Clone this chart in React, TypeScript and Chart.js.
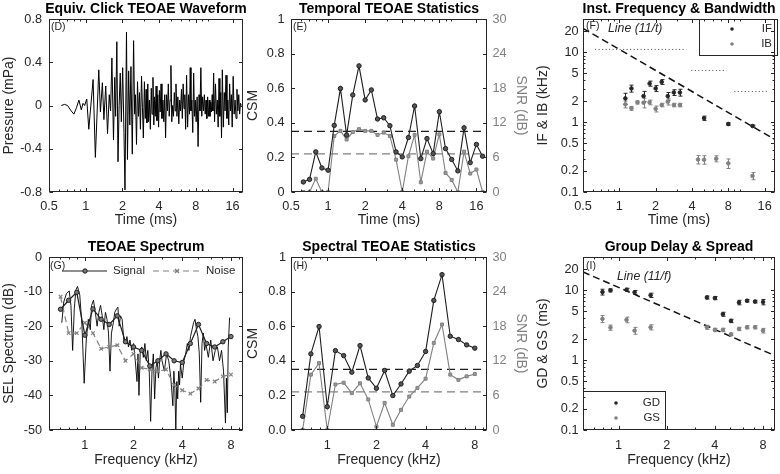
import React, { useEffect, useRef } from 'react';
import { Chart, registerables } from 'chart.js';
Chart.register(...registerables);

const W = 780, H = 474;
const FONT = '"Liberation Sans", Arial, Helvetica, sans-serif';
const AXC = '#262626';
const GRAYC = '#808080';
const BLK = '#1e1e1e';
const TICK_FS = 12.7, LAB_FS = 14, TITLE_FS = 14, LEG_FS = 11.5, TAG_FS = 10.5;

// ---------------- data ----------------
// (D) equivalent click waveform
const waveT = [0.63,0.67,0.71,0.76,0.80,0.84,0.88,0.92,0.95,0.98,1.02,1.06,1.15,1.2,1.28,1.32,1.37,1.41,1.46,1.51,1.56,1.6,1.64,1.69,1.73,1.76,1.8,1.84,1.88,1.92,1.96,2.01,2.06,2.1,2.16,2.2,2.25,2.3,2.35,2.41,2.47,2.52,2.56,2.61,2.66,2.71,2.76,2.81,2.87,2.92,2.97,3.03,3.08,3.13,3.18,3.23,3.28,3.33,3.39,3.45,3.5,3.56,3.62,3.67,3.72,3.78,3.84,3.9,3.96,4.02,4.08,4.15,4.22,4.3,4.37,4.45,4.52,4.6,4.68,4.76,4.84,4.92,5.0,5.08,5.16,5.25,5.33,5.42,5.5,5.6,5.7,5.8,5.9,6.0,6.1,6.2,6.3,6.4,6.5,6.6,6.72,6.85,6.97,7.1,7.2,7.3,7.42,7.55,7.68,7.8,7.92,8.05,8.2,8.35,8.5,8.65,8.8,8.95,9.1,9.25,9.4,9.55,9.7,9.85,10.0,10.15,10.3,10.45,10.6,10.75,10.9,11.05,11.2,11.4,11.6,11.8,12.0,12.2,12.4,12.6,12.8,13.0,13.2,13.45,13.7,13.9,14.15,14.4,14.65,14.9,15.15,15.4,15.65,15.9,16.2,16.5,16.8,17.1,17.4,17.7,18.0,18.3,18.6,18.9];
const waveP = [0,0.01,0,-0.05,-0.08,-0.02,0.05,-0.04,0.02,0,0.06,-0.22,0.24,-0.48,0.33,-0.06,0.21,-0.13,0.18,-0.26,0.1,-0.05,0.44,-0.32,0.26,-0.1,0.59,-0.52,0,0.3,-0.15,0.35,-0.25,-0.78,0.68,-0.5,0.32,-0.18,0.36,-0.45,0.6,-0.08,0.1,-0.36,0.22,-0.1,0.12,-0.22,0.27,-0.02,-0.3,0.22,-0.12,0.15,-0.16,0.2,-0.15,0.05,-0.22,0.16,-0.08,0.26,-0.18,0.08,-0.1,0.18,-0.14,0.1,-0.2,0.14,-0.06,0.2,-0.12,0.05,-0.15,0.1,-0.3,0.1,-0.05,0.2,-0.1,0.05,0.37,-0.15,0,-0.1,0.12,-0.05,0.2,-0.1,0.08,-0.17,0.05,-0.05,0.15,-0.12,0.2,-0.03,0.1,-0.22,0.28,-0.2,0.1,-0.08,0.35,-0.05,0.05,-0.25,0.3,-0.1,0.05,-0.15,0.08,-0.38,0.1,-0.05,0.35,-0.1,0.08,-0.05,0.1,-0.08,0.05,-0.12,0.08,-0.1,0.05,-0.1,0.03,-0.06,0.1,-0.05,0.3,-0.15,0.2,-0.08,0.05,-0.2,0.25,-0.1,0.12,-0.3,0.33,-0.2,0.12,-0.05,0.28,-0.12,0.05,-0.18,0.2,-0.05,0.1,-0.2,0.27,-0.08,0.05,-0.12,0.15,-0.05,0.1,-0.08,0.02,0];

// (E) temporal statistics, 1/6-octave time bands
const timeBands = [0.63,0.707,0.794,0.891,1,1.122,1.26,1.414,1.587,1.782,2,2.245,2.52,2.828,3.175,3.564,4,4.49,5.04,5.66,6.35,7.13,8,8.98,10.08,11.31,12.7,14.25,16,17.96];
const csmTime = [0.058,0.073,0.232,0.139,0.126,0.385,0.598,0.329,0.561,0.729,0.532,0.59,0.422,0.429,0.383,0.232,0.203,0.315,0.497,0.193,0.309,0.222,0.464,0.251,0.188,0.122,0.371,0.17,0.275,0.207];
const snrTime = [0,0,2.3,0,0,9.7,10.6,9.1,10.4,10.9,10.6,10.6,9.9,10.3,9.7,5.6,0,6.2,9.9,1.7,7.0,5.8,10.0,3.3,2.1,0,7.0,3.2,3.9,0];
const csmThreshold = 0.35;
const snrThreshold = 6.6;

// (F) instantaneous frequency & bandwidth
const ifT = [1.122,1.26,1.587,1.782,2,2.245,2.52,2.828,3.175,5.04,8,12.7];
const ifV = [2.19,3.04,2.36,3.57,3.04,3.77,2.36,2.66,2.66,1.14,0.94,0.88];
const ifErr = [0.4,0.35,0.4,0.3,0.3,0.3,0.3,0.25,0.3,0.08,0.04,0.03];
const ibT = [1.122,1.26,1.414,1.587,1.782,2,2.245,2.52,2.828,3.175,4.49,5.04,6.35,8,12.7];
const ibV = [1.8,1.58,1.92,1.9,1.92,1.55,1.76,1.96,1.76,1.76,0.292,0.29,0.3,0.257,0.17];
const ibErr = [0.2,0.1,0.1,0.3,0.15,0.15,0.1,0.2,0.1,0.1,0.04,0.04,0.03,0.04,0.02];
const refTimes = [0.5, 19.5];
const dotLevels = [11, 5.5, 2.75];
const dotStart = [0.63, 3.95, 8.97];
const dotEnd = [3.59, 7.75, 17.5];

// (G) spectrum
const specF = [0.72,0.74,0.77,0.8,0.82,0.84,0.86,0.88,0.9,0.93,0.96,0.99,1.02,1.05,1.08,1.1,1.13,1.16,1.19,1.22,1.25,1.28,1.31,1.34,1.37,1.4,1.43,1.46,1.5,1.53,1.57,1.6,1.63,1.66,1.7,1.74,1.78,1.82,1.86,1.9,1.95,2.0,2.05,2.1,2.13,2.16,2.2,2.25,2.3,2.35,2.4,2.45,2.5,2.55,2.6,2.65,2.7,2.75,2.8,2.85,2.9,2.95,3.0,3.1,3.2,3.3,3.4,3.5,3.55,3.6,3.65,3.7,3.75,3.8,3.85,3.9,4.0,4.1,4.2,4.3,4.4,4.5,4.6,4.7,4.8,4.9,5.0,5.1,5.2,5.3,5.4,5.5,5.6,5.8,6.0,6.2,6.4,6.6,6.8,7.0,7.2,7.4,7.5,7.6,7.7,7.85];
const specDb = [-19,-13,-10.5,-9.8,-14,-27,-15,-9.5,-8.5,-11,-20,-36.5,-24,-18,-21,-14,-12.5,-16,-20,-16,-14,-17,-21,-16,-18,-22,-33,-22,-19,-16,-15,-14.5,-20,-17,-18,-24,-25,-23,-26,-24,-27,-25,-30,-36,-28,-40,-27,-26,-29,-25,-30,-27,-33,-47.5,-33,-28,-41,-32,-30,-35,-30,-27,-30,-33,-28,-30,-35,-43,-33,-38,-50,-36,-41,-33,-37,-31,-35,-30,-28,-25,-27,-23,-21,-19,-18,-21,-23,-28,-42,-25,-22,-27,-25,-29,-24,-30,-27,-26,-30,-27,-33,-48,-35,-45,-26,-17.5];
const freqBands = [0.707,0.794,0.891,1,1.122,1.26,1.414,1.587,1.782,2,2.245,2.52,2.828,3.175,3.564,4,4.49,5.04,5.66,6.35,7.13,8];
const signalBand = [-15.1,-12.5,-10.2,-22.6,-15,-18,-19.5,-17,-24.5,-26,-27,-31.5,-30,-28,-30,-30.5,-25,-19.5,-25,-26,-24.5,-23];
const noiseBand = [-11.5,-22,-22,-19,-22,-26.5,-26,-25.5,-30,-28,-32,-32.5,-33,-32.5,-37,-38.5,-39.5,-38,-35.5,-36,-34.5,-34];

// (H) spectral statistics
const csmFreq = [0.079,0.44,0.598,0.135,0.459,0.43,0.334,0.488,0.301,0.241,0.344,0.199,0.266,0.34,0.373,0.454,0.749,0.898,0.542,0.523,0.492,0.473];
const snrFreq = [0,9.6,11.6,0,7.9,8.2,6.4,8.1,5.3,0.6,4.7,0.9,3.5,5.8,7.3,8.9,15.1,18.3,9.6,8.7,9.3,9.7];

// (I) group delay & spread
const gdF = [0.794,0.891,1.122,1.26,1.587,3.564,4,4.49,5.04,5.66,6.35,7.13,8];
const gdV = [9.46,10,10.2,9.35,8.5,7.9,7.75,4.55,3.65,6.7,7.1,6.9,6.8];
const gdErr = [0.9,0.5,0.5,0.6,0.6,0.4,0.4,0.3,0.2,0.5,0.3,0.3,0.6];
const gsF = [0.794,0.891,1.122,1.26,1.587,3.564,4,4.49,5.04,5.66,6.35,7.13,8];
const gsV = [3.9,2.93,3.78,2.65,2.96,2.96,2.71,2.71,2.34,2.8,2.96,2.96,2.65];
const gsErr = [0.45,0.25,0.35,0.3,0.25,0.2,0.15,0.15,0.1,0.15,0.15,0.15,0.2];
const refFreqs = [0.6, 9.5];

// tick labels
const timeTicks = [0.5, 1, 2, 4, 8, 16];
const timeLabels = ['0.5', '1', '2', '4', '8', '16'];
const freqTicks = [1, 2, 4, 8];
const freqLabels = ['1', '2', '4', '8'];
const logYTicks = [0.1, 0.2, 0.5, 1, 2, 5, 10, 20];
const logYLabels = ['0.1', '0.2', '0.5', '1', '2', '5', '10', '20'];
const presTicks = [-0.8, -0.4, 0, 0.4, 0.8];
const presLabels = ['-0.8', '-0.4', '0', '0.4', '0.8'];
const csmTicks = [0, 0.2, 0.4, 0.6, 0.8, 1];
const csmLabelsE = ['0', '0.2', '0.4', '0.6', '0.8', '1'];
const csmLabelsH = ['0.0', '0.2', '0.4', '0.6', '0.8', '1'];
const snrTicks = [0, 6, 12, 18, 24, 30];
const snrLabels = ['0', '6', '12', '18', '24', '30'];
const selTicks = [-50, -40, -30, -20, -10, 0];
const selLabels = ['-50', '-40', '-30', '-20', '-10', '0'];

// ---------------- helpers ----------------
function logMinor(min: number, max: number, majors: number[]) {
  const out: number[] = [];
  for (let e = -2; e <= 2; e++) for (let d = 1; d <= 9; d++) {
    const v = d * Math.pow(10, e);
    if (v > min * 1.0001 && v < max * 0.9999 && !majors.some(m => Math.abs(m - v) < 1e-9)) out.push(v);
  }
  return out;
}

type Axis = { type: 'linear' | 'logarithmic'; min: number; max: number; ticks: number[]; labels: string[]; minor?: number[]; title: string; color?: string; pad: number };
type Spec = {
  area: { L: number; T: number; R: number; B: number };
  title: string; xTitleY: number; yTitleX: number; y2TitleX?: number;
  x: Axis; y: Axis; y2?: Axis;
  datasets: any[];
  before?: (c: any, ctx: CanvasRenderingContext2D) => void;
  after?: (c: any, ctx: CanvasRenderingContext2D) => void;
};

function axisOpts(a: Axis, position: string, size: number) {
  return {
    type: a.type, position, min: a.min, max: a.max,
    grid: { display: false, drawTicks: false, tickLength: 0 },
    border: { display: false },
    ticks: {
      autoSkip: false, maxRotation: 0, minRotation: 0, padding: a.pad,
      color: a.color || AXC, font: { family: FONT, size: TICK_FS },
      callback: (_v: any, i: number) => a.labels[i],
    },
    afterBuildTicks: (s: any) => { s.ticks = a.ticks.map(v => ({ value: v })); },
    afterFit: (s: any) => { if (position === 'bottom') s.height = size; else s.width = size; },
    title: { display: true, text: a.title, color: a.color || AXC, font: { family: FONT, size: LAB_FS }, padding: 0 },
  };
}

function line(ctx: CanvasRenderingContext2D, x1: number, y1: number, x2: number, y2: number) {
  ctx.beginPath(); ctx.moveTo(x1, y1); ctx.lineTo(x2, y2); ctx.stroke();
}

function errorBars(c: any, ctx: CanvasRenderingContext2D, xs: number[], ys: number[], es: number[], color: string) {
  const sx = c.scales.x, sy = c.scales.y;
  ctx.strokeStyle = color; ctx.lineWidth = 1;
  xs.forEach((x, i) => {
    const px = Math.round(sx.getPixelForValue(x)) + 0.5;
    const a = sy.getPixelForValue(ys[i] + es[i]);
    const b = sy.getPixelForValue(ys[i] - es[i]);
    line(ctx, px, a, px, b);
    line(ctx, px - 2, a, px + 2, a);
    line(ctx, px - 2, b, px + 2, b);
  });
}

function text(ctx: CanvasRenderingContext2D, s: string, x: number, y: number, font: string, align: CanvasTextAlign = 'left', color = AXC) {
  ctx.font = font; ctx.fillStyle = color; ctx.textAlign = align; ctx.textBaseline = 'middle';
  ctx.fillText(s, x, y);
}

function framePlugin(p: Spec) {
  return {
    id: 'frame',
    beforeDatasetsDraw(c: any) { if (p.before) { const ctx = c.ctx; ctx.save(); p.before(c, ctx); ctx.restore(); } },
    afterDatasetsDraw(c: any) {
      const ctx: CanvasRenderingContext2D = c.ctx;
      if (p.after) { ctx.save(); p.after(c, ctx); ctx.restore(); }
      const { left, right, top, bottom } = c.chartArea;
      ctx.save();
      ctx.strokeStyle = AXC; ctx.lineWidth = 1;
      const sx = c.scales.x, sy = c.scales.y;
      const L = Math.round(left) + 0.5, R = Math.round(right) - 0.5, T = Math.round(top) + 0.5, B = Math.round(bottom) - 0.5;
      const xt = (vals: number[], len: number) => vals.forEach(v => {
        const px = Math.round(sx.getPixelForValue(v)) + 0.5;
        line(ctx, px, B, px, B - len); line(ctx, px, T, px, T + len);
      });
      const yt = (vals: number[], len: number) => vals.forEach(v => {
        const py = Math.round(sy.getPixelForValue(v)) + 0.5;
        line(ctx, L, py, L + len, py); line(ctx, R, py, R - len, py);
      });
      xt(p.x.ticks, 3.5); if (p.x.minor) xt(p.x.minor, 2);
      yt(p.y.ticks, 3.5); if (p.y.minor) yt(p.y.minor, 2);
      ctx.strokeRect(L, T, R - L, B - T);
      ctx.font = `bold ${TITLE_FS}px ${FONT}`; ctx.fillStyle = '#000'; ctx.textAlign = 'center'; ctx.textBaseline = 'alphabetic';
      ctx.fillText(p.title, (left + right) / 2, top - 6);
      ctx.restore();
    },
  };
}

function buildConfig(p: Spec): any {
  const lh = LAB_FS * 1.2;
  const leftEdge = p.yTitleX - lh / 2;
  const leftW = p.area.L - leftEdge;
  const bottomEdge = p.xTitleY + lh / 2;
  const bottomH = bottomEdge - p.area.B;
  let rightEdge = p.area.R, rightW = 0;
  if (p.y2 && p.y2TitleX) { rightEdge = p.y2TitleX + lh / 2; rightW = rightEdge - p.area.R; }
  const scales: any = { x: axisOpts(p.x, 'bottom', bottomH), y: axisOpts(p.y, 'left', leftW) };
  if (p.y2) scales.y2 = axisOpts(p.y2, 'right', rightW);
  return {
    type: 'line',
    data: { datasets: p.datasets },
    options: {
      responsive: false, animation: false, events: [],
      layout: { padding: { left: leftEdge, top: p.area.T, right: W - rightEdge, bottom: H - bottomEdge } },
      plugins: { legend: { display: false }, title: { display: false }, tooltip: { enabled: false } },
      scales,
    },
    plugins: [framePlugin(p)],
  };
}

const xy = (xs: number[], ys: number[]) => xs.map((x, i) => ({ x, y: ys[i] }));
const tagFont = `${TAG_FS}px ${FONT}`;
const legFont = `${LEG_FS}px ${FONT}`;
const italicFont = `italic 12.3px ${FONT}`;

const timeAxis = (pad: number): Axis => ({ type: 'logarithmic', min: 0.5, max: 19.5, ticks: timeTicks, labels: timeLabels, minor: logMinor(0.5, 19.5, timeTicks), title: 'Time (ms)', pad });
const freqAxis = (pad: number): Axis => ({ type: 'logarithmic', min: 0.6, max: 9.5, ticks: freqTicks, labels: freqLabels, minor: logMinor(0.6, 9.5, freqTicks), title: 'Frequency (kHz)', pad });
const logY = (title: string): Axis => ({ type: 'logarithmic', min: 0.1, max: 30, ticks: logYTicks, labels: logYLabels, minor: logMinor(0.1, 30, logYTicks), title, pad: 4.5 });

const statDatasets = (xs: number[], csm: number[], snr: number[], xmin: number, xmax: number) => [
  { data: xy(xs, csm), yAxisID: 'y', borderColor: BLK, borderWidth: 1.1, pointStyle: 'circle', pointRadius: 2.2, pointBackgroundColor: '#555', pointBorderColor: BLK, pointBorderWidth: 1, order: 1 },
  { data: xy(xs, snr), yAxisID: 'y2', borderColor: GRAYC, borderWidth: 1.1, pointStyle: 'rect', pointRadius: 2.1, pointBackgroundColor: '#9a9a9a', pointBorderColor: GRAYC, pointBorderWidth: 1, order: 2 },
  { data: [{ x: xmin, y: csmThreshold }, { x: xmax, y: csmThreshold }], yAxisID: 'y', borderColor: BLK, borderWidth: 1.2, borderDash: [8, 5], pointRadius: 0, order: 3 },
  { data: [{ x: xmin, y: snrThreshold }, { x: xmax, y: snrThreshold }], yAxisID: 'y2', borderColor: GRAYC, borderWidth: 1.2, borderDash: [8, 5], pointRadius: 0, order: 4 },
];

const specs: Spec[] = [
  {
    area: { L: 49, T: 19, R: 243, B: 192 }, title: 'Equiv. Click TEOAE Waveform', xTitleY: 220, yTitleX: 9,
    x: timeAxis(6.5),
    y: { type: 'linear', min: -0.8, max: 0.8, ticks: presTicks, labels: presLabels, title: 'Pressure (mPa)', pad: 7 },
    datasets: [{ data: xy(waveT, waveP), borderColor: '#000', borderWidth: 1, pointRadius: 0 }],
    after: (c, ctx) => text(ctx, '(D)', 51, 27, tagFont),
  },
  {
    area: { L: 291, T: 19, R: 487, B: 192 }, title: 'Temporal TEOAE Statistics', xTitleY: 220, yTitleX: 253, y2TitleX: 521,
    x: timeAxis(6.5),
    y: { type: 'linear', min: 0, max: 1, ticks: csmTicks, labels: csmLabelsE, title: 'CSM', pad: 6.5 },
    y2: { type: 'linear', min: 0, max: 30, ticks: snrTicks, labels: snrLabels, title: 'SNR (dB)', color: GRAYC, pad: 5.5 },
    datasets: statDatasets(timeBands, csmTime, snrTime, 0.5, 19.5),
    after: (c, ctx) => text(ctx, '(E)', 293, 27, tagFont),
  },
  {
    area: { L: 583, T: 19, R: 777, B: 192 }, title: 'Inst. Frequency & Bandwidth', xTitleY: 220, yTitleX: 543,
    x: timeAxis(6.5), y: logY('IF & IB (kHz)'),
    datasets: [
      { data: xy(refTimes, refTimes.map(t => 11 / t)), borderColor: '#111', borderWidth: 1.5, borderDash: [7, 4], pointRadius: 0, order: 5 },
      ...dotLevels.map((v, i) => ({ data: [{ x: dotStart[i], y: v }, { x: dotEnd[i], y: v }], borderColor: '#444', borderWidth: 1, borderDash: [1, 2.5], pointRadius: 0, order: 6 })),
      { data: xy(ifT, ifV), showLine: false, pointRadius: 1.8, pointBackgroundColor: AXC, pointBorderColor: AXC, order: 1 },
      { data: xy(ibT, ibV), showLine: false, pointRadius: 1.8, pointBackgroundColor: GRAYC, pointBorderColor: GRAYC, order: 2 },
    ],
    before: (c, ctx) => { errorBars(c, ctx, ifT, ifV, ifErr, AXC); errorBars(c, ctx, ibT, ibV, ibErr, GRAYC); },
    after: (c, ctx) => {
      text(ctx, '(F)', 586, 26, tagFont);
      text(ctx, 'Line (11/t)', 608, 29, italicFont);
      ctx.fillStyle = '#fff'; ctx.fillRect(699.5, 19.5, 78, 36);
      ctx.strokeStyle = AXC; ctx.lineWidth = 1; ctx.strokeRect(699.5, 19.5, 78, 36);
      ctx.fillStyle = AXC; ctx.beginPath(); ctx.arc(732, 29, 1.8, 0, Math.PI * 2); ctx.fill();
      ctx.fillStyle = GRAYC; ctx.beginPath(); ctx.arc(732, 44, 1.8, 0, Math.PI * 2); ctx.fill();
      text(ctx, 'IF', 772, 29, legFont, 'right');
      text(ctx, 'IB', 772, 44, legFont, 'right');
    },
  },
  {
    area: { L: 49, T: 257, R: 243, B: 430 }, title: 'TEOAE Spectrum', xTitleY: 460, yTitleX: 9,
    x: freqAxis(7.5),
    y: { type: 'linear', min: -50, max: 0, ticks: selTicks, labels: selLabels, title: 'SEL Spectrum (dB)', pad: 7 },
    datasets: [
      { data: xy(specF, specDb), borderColor: '#000', borderWidth: 0.9, pointRadius: 0, order: 3 },
      { data: xy(freqBands, noiseBand), borderColor: GRAYC, borderWidth: 1.2, borderDash: [6, 4], pointStyle: 'crossRot', pointRadius: 2.5, pointBorderColor: GRAYC, pointBorderWidth: 1.2, order: 2 },
      { data: xy(freqBands, signalBand), borderColor: BLK, borderWidth: 1.2, pointStyle: 'circle', pointRadius: 2.2, pointBackgroundColor: '#777', pointBorderColor: BLK, pointBorderWidth: 1, order: 1 },
    ],
    after: (c, ctx) => {
      text(ctx, '(G)', 50, 266, tagFont);
      ctx.strokeStyle = BLK; ctx.lineWidth = 1.2; line(ctx, 62, 271, 107, 271);
      ctx.fillStyle = '#777'; ctx.beginPath(); ctx.arc(85, 271, 2.2, 0, Math.PI * 2); ctx.fill(); ctx.lineWidth = 1; ctx.stroke();
      text(ctx, 'Signal', 113, 271, legFont);
      ctx.strokeStyle = GRAYC; ctx.lineWidth = 1.2; ctx.setLineDash([6, 4]); line(ctx, 153, 271, 202, 271); ctx.setLineDash([]);
      line(ctx, 175, 269, 179, 273); line(ctx, 175, 273, 179, 269);
      text(ctx, 'Noise', 206, 271, legFont);
    },
  },
  {
    area: { L: 291, T: 257, R: 487, B: 430 }, title: 'Spectral TEOAE Statistics', xTitleY: 460, yTitleX: 253, y2TitleX: 521,
    x: freqAxis(7.5),
    y: { type: 'linear', min: 0, max: 1, ticks: csmTicks, labels: csmLabelsH, title: 'CSM', pad: 5 },
    y2: { type: 'linear', min: 0, max: 30, ticks: snrTicks, labels: snrLabels, title: 'SNR (dB)', color: GRAYC, pad: 5.5 },
    datasets: statDatasets(freqBands, csmFreq, snrFreq, 0.6, 9.5),
    after: (c, ctx) => text(ctx, '(H)', 293, 266, tagFont),
  },
  {
    area: { L: 583, T: 257, R: 777, B: 430 }, title: 'Group Delay & Spread', xTitleY: 460, yTitleX: 543,
    x: freqAxis(7.5), y: logY('GD & GS (ms)'),
    datasets: [
      { data: xy(refFreqs, refFreqs.map(f => 11 / f)), borderColor: '#111', borderWidth: 1.5, borderDash: [7, 4], pointRadius: 0, order: 5 },
      { data: xy(gdF, gdV), showLine: false, pointRadius: 1.8, pointBackgroundColor: AXC, pointBorderColor: AXC, order: 1 },
      { data: xy(gsF, gsV), showLine: false, pointRadius: 1.8, pointBackgroundColor: GRAYC, pointBorderColor: GRAYC, order: 2 },
    ],
    before: (c, ctx) => { errorBars(c, ctx, gdF, gdV, gdErr, AXC); errorBars(c, ctx, gsF, gsV, gsErr, GRAYC); },
    after: (c, ctx) => {
      text(ctx, '(I)', 586, 266, tagFont);
      text(ctx, 'Line (11/f)', 617, 277, italicFont);
      ctx.fillStyle = '#fff'; ctx.fillRect(583.5, 391.5, 82, 38);
      ctx.strokeStyle = AXC; ctx.lineWidth = 1; ctx.strokeRect(583.5, 391.5, 82, 38);
      ctx.fillStyle = AXC; ctx.beginPath(); ctx.arc(616, 403, 1.8, 0, Math.PI * 2); ctx.fill();
      ctx.fillStyle = GRAYC; ctx.beginPath(); ctx.arc(616, 418, 1.8, 0, Math.PI * 2); ctx.fill();
      text(ctx, 'GD', 660, 403, legFont, 'right');
      text(ctx, 'GS', 660, 418, legFont, 'right');
    },
  },
];

function Panel({ spec }: { spec: Spec }) {
  const ref = useRef<HTMLCanvasElement>(null);
  useEffect(() => {
    const chart = new Chart(ref.current as HTMLCanvasElement, buildConfig(spec));
    return () => chart.destroy();
  }, [spec]);
  return <canvas ref={ref} width={W} height={H} style={{ position: 'absolute', left: 0, top: 0, width: W, height: H }} />;
}

export default function App() {
  return (
    <div style={{ position: 'absolute', left: 0, top: 0, width: W, height: H, background: '#fff', overflow: 'hidden' }}>
      {specs.map((s, i) => <Panel key={i} spec={s} />)}
    </div>
  );
}
